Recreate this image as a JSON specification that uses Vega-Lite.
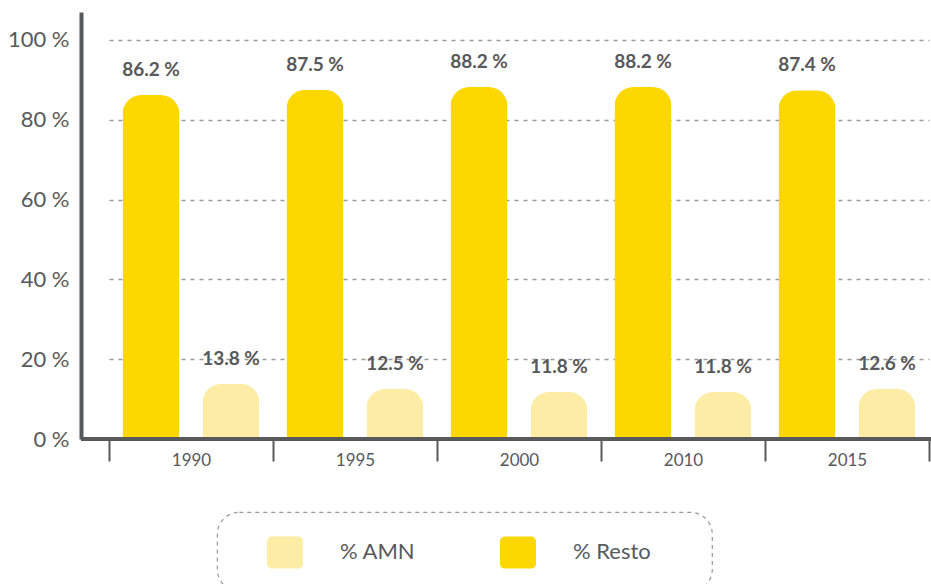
{
  "$schema": "https://vega.github.io/schema/vega-lite/v6.json",
  "autosize": "none",
  "padding": {"left": 81, "top": 12, "right": 0, "bottom": 145},
  "width": 850,
  "height": 427,
  "background": "white",
  "config": {
    "font": "Lato",
    "view": {"stroke": null}
  },
  "data": {
    "values": [
      {"year": "1990", "series": "% Resto", "value": 86.2},
      {"year": "1990", "series": "% AMN", "value": 13.8},
      {"year": "1995", "series": "% Resto", "value": 87.5},
      {"year": "1995", "series": "% AMN", "value": 12.5},
      {"year": "2000", "series": "% Resto", "value": 88.2},
      {"year": "2000", "series": "% AMN", "value": 11.8},
      {"year": "2010", "series": "% Resto", "value": 88.2},
      {"year": "2010", "series": "% AMN", "value": 11.8},
      {"year": "2015", "series": "% Resto", "value": 87.4},
      {"year": "2015", "series": "% AMN", "value": 12.6}
    ]
  },
  "encoding": {
    "x": {
      "field": "year",
      "type": "nominal",
      "scale": {"range": [28, 848], "paddingInner": 0, "paddingOuter": 0},
      "axis": {
        "title": null,
        "domain": false,
        "tickBand": "extent",
        "tickSize": 22,
        "tickWidth": 2,
        "tickColor": "#58595b",
        "labelAngle": 0,
        "labelFontSize": 17,
        "labelColor": "#58595b",
        "labelPadding": -9
      }
    },
    "xOffset": {
      "field": "series",
      "type": "nominal",
      "sort": ["% Resto", "% AMN"],
      "scale": {"paddingInner": 0.2875, "paddingOuter": 0.16875}
    },
    "y": {
      "field": "value",
      "type": "quantitative",
      "scale": {"domain": [0, 107], "nice": false},
      "axis": {
        "title": null,
        "values": [0, 20, 40, 60, 80, 100],
        "labelExpr": "datum.value + ' %'",
        "labelFontSize": 22,
        "labelColor": "#58595b",
        "labelPadding": 12,
        "ticks": false,
        "domainColor": "#58595b",
        "domainWidth": 4,
        "grid": true,
        "gridColor": "#9a9a9a",
        "gridDash": [4, 5],
        "gridWidth": 1.5
      }
    }
  },
  "layer": [
    {
      "mark": {"type": "bar", "cornerRadiusTopLeft": 19, "cornerRadiusTopRight": 19},
      "encoding": {
        "color": {
          "field": "series",
          "type": "nominal",
          "scale": {"domain": ["% AMN", "% Resto"], "range": ["#FCECA5", "#FCD800"]},
          "legend": {
            "title": "\u00a0",
            "titleOrient": "right",
            "titlePadding": 39,
            "titleFontSize": 6,
            "orient": "none",
            "direction": "horizontal",
            "legendX": 136,
            "legendY": 500,
            "padding": 22,
            "strokeColor": "#9a9a9a",
            "cornerRadius": 22,
            "symbolType": "M-0.72,-0.89H0.72A0.28,0.28 0 0 1 1,-0.61V0.61A0.28,0.28 0 0 1 0.72,0.89H-0.72A0.28,0.28 0 0 1 -1,0.61V-0.61A0.28,0.28 0 0 1 -0.72,-0.89Z",
            "symbolSize": 1296,
            "symbolStrokeWidth": 0,
            "symbolOpacity": 1,
            "symbolOffset": 28,
            "labelOffset": 37,
            "columnPadding": 56,
            "labelFontSize": 22,
            "labelColor": "#58595b",
            "encode": {
              "legend": {"update": {"strokeDash": {"value": [4, 4]}, "strokeWidth": {"value": 1.2}}}
            }
          }
        }
      }
    },
    {
      "transform": [{"calculate": "format(datum.value, '.1f') + ' %'", "as": "label"}],
      "mark": {"type": "text", "dy": -19, "baseline": "alphabetic", "fontSize": 19, "fontWeight": "bold", "color": "#58595b"},
      "encoding": {"text": {"field": "label"}}
    },
    {
      "mark": {"type": "rule", "color": "#58595b", "strokeWidth": 3},
      "encoding": {"y": {"datum": 0}, "x": null, "xOffset": null}
    }
  ]
}
